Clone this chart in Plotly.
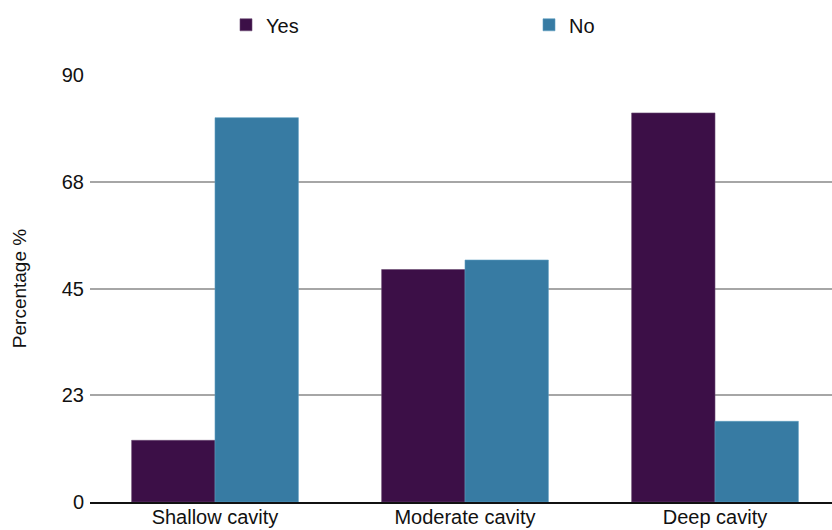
import plotly.graph_objects as go

# Cavity depth categories and share of responses (%)
categories = ["Shallow cavity", "Moderate cavity", "Deep cavity"]
yes_values = [13, 49, 82]
no_values = [81, 51, 17]

# Axis tick positions and their printed labels
tick_values = [0, 22.5, 45, 67.5, 90]
tick_labels = ["0", "23", "45", "68", "90"]

YES_COLOR = "#3c0f47"
NO_COLOR = "#377ba3"
FONT = "Liberation Sans, Arial, Helvetica, sans-serif"

fig = go.Figure()
fig.add_trace(go.Bar(
    name="Yes", x=categories, y=yes_values,
    marker=dict(color=YES_COLOR, line=dict(color="#6a4a72", width=0.6)),
))
fig.add_trace(go.Bar(
    name="No", x=categories, y=no_values,
    marker=dict(color=NO_COLOR, line=dict(color="#5a9cc0", width=0.6)),
))

fig.update_layout(
    width=832, height=530,
    margin=dict(l=90, r=0, t=75, b=28),
    paper_bgcolor="white", plot_bgcolor="white",
    barmode="group", bargap=0.333, bargroupgap=0,
    font=dict(family=FONT, size=19, color="#111111"),
    showlegend=True,
    legend=dict(
        orientation="h", x=(238 - 90) / 742, xanchor="left",
        y=0.99, yanchor="top", yref="container",
        entrywidth=258, entrywidthmode="pixels",
        font=dict(family=FONT, size=20, color="#111111"),
        traceorder="normal",
    ),
    xaxis=dict(
        type="category", range=[-0.5, 2.468], automargin=False,
        showgrid=False, showline=True, linecolor="#111111", linewidth=2,
        ticks="", tickfont=dict(size=20), ticklabelstandoff=-4,
    ),
    yaxis=dict(
        range=[0, 90], tickvals=tick_values, ticktext=tick_labels,
        automargin=False,
        showgrid=True, gridcolor="#a6a6a6", gridwidth=2,
        zeroline=False, showline=False, ticks="",
        ticklabelstandoff=5, tickfont=dict(size=20),
        title=dict(text="Percentage %", font=dict(size=19), standoff=30),
    ),
)

fig.write_html("out.html")
